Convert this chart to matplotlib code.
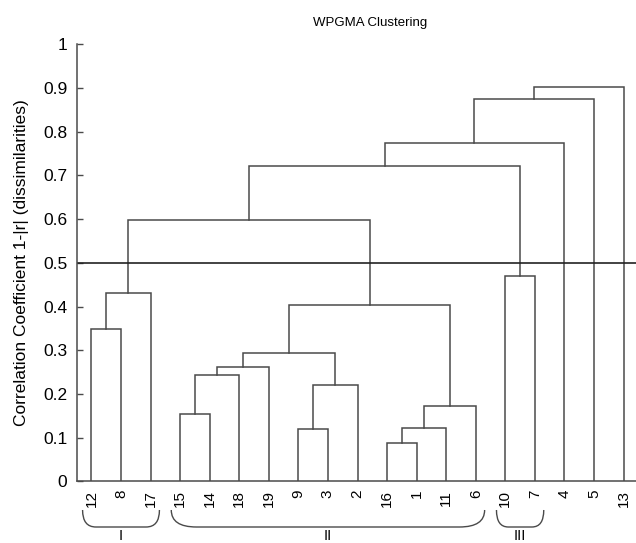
import matplotlib
matplotlib.use("Agg")
import matplotlib.pyplot as plt
from matplotlib.path import Path
from matplotlib.patches import PathPatch
from matplotlib.transforms import blended_transform_factory

plt.rcParams['font.family'] = ['Liberation Sans', 'DejaVu Sans']

# leaf order along the x axis
leaves = ['12', '8', '17', '15', '14', '18', '19', '9', '3', '2',
          '16', '1', '11', '6', '10', '7', '4', '5', '13']

# merges: (left child, right child, height); 'cN' = result of merge N
links = [
    ('12', '8', 0.349),    # c0
    ('c0', '17', 0.432),   # c1
    ('15', '14', 0.155),   # c2
    ('c2', '18', 0.243),   # c3
    ('c3', '19', 0.261),   # c4
    ('9', '3', 0.119),     # c5
    ('c5', '2', 0.220),    # c6
    ('c4', 'c6', 0.294),   # c7
    ('16', '1', 0.087),    # c8
    ('c8', '11', 0.123),   # c9
    ('c9', '6', 0.173),    # c10
    ('c7', 'c10', 0.403),  # c11
    ('c1', 'c11', 0.598),  # c12
    ('10', '7', 0.471),    # c13
    ('c12', 'c13', 0.721), # c14
    ('c14', '4', 0.773),   # c15
    ('c15', '5', 0.874),   # c16
    ('c16', '13', 0.902),  # c17
]

cut_level = 0.5
cluster_names = ['I', 'II', 'III']
cluster_members = [['12', '8', '17'],
                   ['15', '14', '18', '19', '9', '3', '2', '16', '1', '11', '6'],
                   ['10', '7']]

fig = plt.figure(figsize=(6.36, 5.43), dpi=100)
ax = fig.add_axes([0.121, 0.1133, 0.879, 0.8053])

line_col = '#4a4a4a'

# positions of nodes
pos = {name: (i + 1, 0.0) for i, name in enumerate(leaves)}
for k, (a, b, h) in enumerate(links):
    xa, ha = pos[a]
    xb, hb = pos[b]
    ax.plot([xa, xa, xb, xb], [ha, h, h, hb], color=line_col, lw=1.1,
            solid_joinstyle='miter')
    pos['c%d' % k] = ((xa + xb) / 2.0, h)

ax.axhline(cut_level, color='#222222', lw=1.2)

ax.set_xlim(0.51, 19.42)
ax.set_ylim(0, 1)
ax.set_xticks(range(1, len(leaves) + 1))
ax.set_xticklabels(leaves, rotation=90, fontsize=11)
ax.set_yticks([i / 10 for i in range(11)])
ax.set_yticklabels(['0', '0.1', '0.2', '0.3', '0.4', '0.5', '0.6', '0.7',
                    '0.8', '0.9', '1'], fontsize=12.5)
ax.tick_params(axis='x', length=0, pad=6)
ax.tick_params(axis='y', direction='in', length=4, width=1, pad=7,
               color=line_col)
for s in ['top', 'right']:
    ax.spines[s].set_visible(False)
for s in ['left', 'bottom']:
    ax.spines[s].set_color(line_col)
    ax.spines[s].set_linewidth(1.1)

ax.set_ylabel('Correlation Coefficient 1-|r| (dissimilarities)', fontsize=12.5,
              labelpad=10)
fig.text(0.582, 0.958, 'WPGMA Clustering', fontsize=9.5, ha='center',
         va='center')

# braces below the leaf labels, with the group names under them
tr = blended_transform_factory(ax.transData, fig.transFigure)
y_top = 1 - 510 / 543
y_bot = 1 - 527 / 543
for name, members in zip(cluster_names, cluster_members):
    xs = [leaves.index(m) + 1 for m in members]
    x0 = min(xs) - 0.3
    x1 = max(xs) + 0.3
    r = 0.3 + 0.05 * len(members)
    verts = [(x0, y_top), (x0, y_bot), (x0 + r, y_bot),
             (x1 - r, y_bot),
             (x1, y_bot), (x1, y_top)]
    codes = [Path.MOVETO, Path.CURVE3, Path.CURVE3,
             Path.LINETO, Path.CURVE3, Path.CURVE3]
    ax.add_patch(PathPatch(Path(verts, codes), fill=False, edgecolor=line_col,
                           lw=1.0, transform=tr, clip_on=False))
    fig.text((x0 + x1) / 2, 1 - 529 / 543, name, transform=tr, fontsize=10.5,
             ha='center', va='top')

fig.savefig('out.png', dpi=100)
